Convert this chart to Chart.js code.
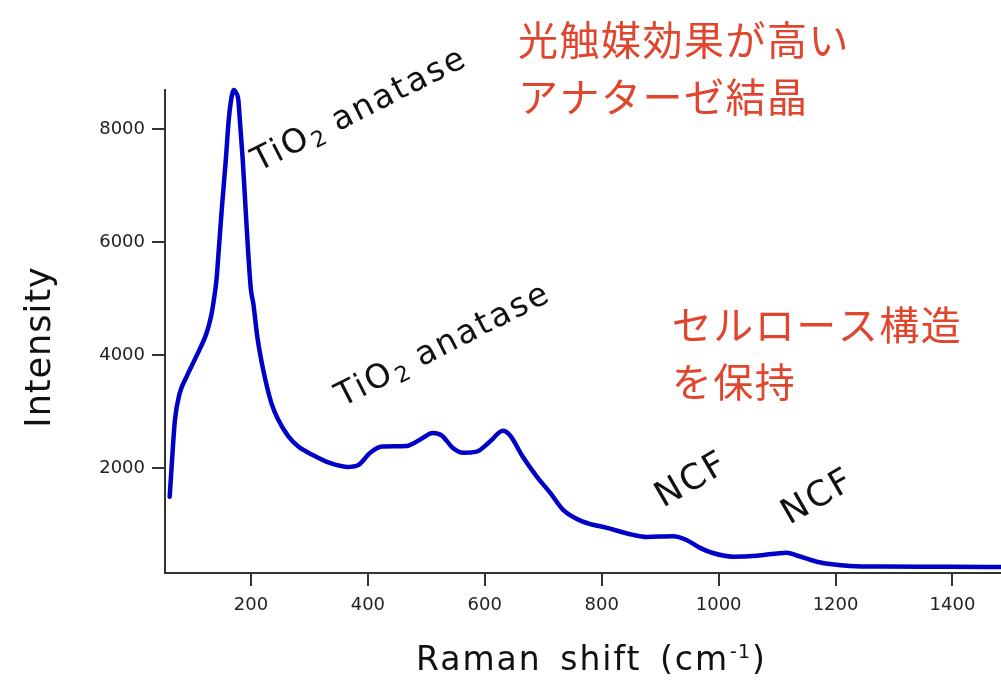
<!DOCTYPE html>
<html>
<head>
<meta charset="utf-8">
<script src="https://cdn.jsdelivr.net/npm/chart.js@4.4.1/dist/chart.umd.min.js"></script>
<style>
  html, body { margin: 0; padding: 0; background: #fff; }
  #wrap { width: 1001px; height: 680px; }
</style>
</head>
<body>
<div id="wrap"><canvas id="chartCanvas" width="1001" height="680"></canvas></div>
<script>
// Raman spectrum
const ramanShift = [61, 64, 70, 78, 90, 101, 113, 124, 132, 137, 141, 145, 150, 157, 162, 166, 168.5, 171, 174, 178.5, 181, 186, 191, 195, 200, 204, 211, 221, 235, 247, 264, 281, 306, 335, 364, 383, 404, 424, 466, 489, 511, 526, 546, 563, 586, 609, 631, 643, 665, 689, 712, 734, 768, 809, 854, 877, 922, 945, 968, 990, 1025, 1065, 1117, 1134, 1168, 1225, 1281, 1400, 1483];
const intensity  = [1490, 1970, 2850, 3320, 3620, 3860, 4120, 4390, 4700, 5010, 5330, 5870, 6570, 7460, 8170, 8520, 8650, 8700, 8660, 8520, 8170, 7460, 6570, 5870, 5160, 4920, 4320, 3740, 3150, 2850, 2560, 2380, 2230, 2090, 2020, 2050, 2270, 2380, 2390, 2500, 2620, 2580, 2350, 2270, 2290, 2470, 2660, 2580, 2200, 1850, 1560, 1260, 1050, 940, 815, 780, 790, 725, 585, 495, 430, 445, 500, 450, 340, 265, 253, 250, 245];

const xTickValues = [200, 400, 600, 800, 1000, 1200, 1400];
const yTickValues = [2000, 4000, 6000, 8000];

const peakLabels = ['TiO2 anatase', 'TiO2 anatase', 'NCF', 'NCF'];
const noteLines = ['光触媒効果が高い', 'アナターゼ結晶', 'セルロース構造', 'を保持'];

// where the labels sit, in data units (x = cm-1, y = intensity)
const peakLabelPos = [
  { x: 213, y: 7250, angle: -27, size: 33 },
  { x: 356, y: 3080, angle: -27, size: 33 },
  { x: 905, y: 1290, angle: -30, size: 35 },
  { x: 1121, y: 990, angle: -30, size: 35 }
];
const notePos = [
  { x: 657, y: 9590 },
  { x: 657, y: 8580 },
  { x: 920, y: 4540 },
  { x: 920, y: 3525 }
];

const AXIS = '#333';
const LINE_BLUE = 'rgb(0, 0, 200)';
const NOTE_RED = 'rgb(224, 70, 46)';
const LATIN = "'DejaVu Sans', Verdana, sans-serif";
const CJK = "'Noto Sans CJK JP', sans-serif";

function setSpacing(ctx, px, word) {
  if ('letterSpacing' in ctx) ctx.letterSpacing = px + 'px';
  if ('wordSpacing' in ctx) ctx.wordSpacing = (word || 0) + 'px';
}

// draws text left-aligned at (0,0); the 2 after "TiO" becomes a subscript
function drawLabel(ctx, txt, size, spacing) {
  const parts = txt.startsWith('TiO2') ? [['TiO', 0], ['2', 1], [txt.slice(4), 0]] : [[txt, 0]];
  let x = 0;
  parts.forEach(([s, sub]) => {
    const fs = sub ? Math.round(size * 0.68) : size;
    ctx.font = fs + 'px ' + LATIN;
    setSpacing(ctx, sub ? 0.5 : spacing);
    ctx.fillText(s, x + (sub ? 1 : 0), sub ? size * 0.16 : 0);
    x += ctx.measureText(s).width + (sub ? 1 : 0);
  });
}

const labelPlugin = {
  id: 'labels',
  afterDraw(chart) {
    const ctx = chart.ctx;
    const xs = chart.scales.x, ys = chart.scales.y;

    // peak labels (rotated)
    peakLabels.forEach((txt, i) => {
      const p = peakLabelPos[i];
      ctx.save();
      ctx.translate(xs.getPixelForValue(p.x), ys.getPixelForValue(p.y));
      ctx.rotate(p.angle * Math.PI / 180);
      ctx.fillStyle = '#111';
      ctx.textAlign = 'left';
      ctx.textBaseline = 'alphabetic';
      drawLabel(ctx, txt, p.size, 2.2);
      ctx.restore();
    });

    // red notes
    noteLines.forEach((txt, i) => {
      const p = notePos[i];
      ctx.save();
      ctx.font = '40px ' + CJK;
      setSpacing(ctx, 1.5);
      ctx.fillStyle = NOTE_RED;
      ctx.textAlign = 'left';
      ctx.textBaseline = 'middle';
      ctx.fillText(txt, xs.getPixelForValue(p.x), ys.getPixelForValue(p.y));
      ctx.restore();
    });

    // y title
    ctx.save();
    ctx.translate(50, 347);
    ctx.rotate(-Math.PI / 2);
    ctx.font = '35px ' + LATIN;
    setSpacing(ctx, 1);
    ctx.fillStyle = '#111';
    ctx.textAlign = 'center';
    ctx.textBaseline = 'alphabetic';
    ctx.fillText('Intensity', 0, 0);
    ctx.restore();

    // x title with superscript
    ctx.save();
    ctx.fillStyle = '#111';
    ctx.textBaseline = 'alphabetic';
    ctx.textAlign = 'left';
    let x = 416;
    const base = 670;
    ctx.font = '33px ' + LATIN;
    setSpacing(ctx, 2, 6);
    ctx.fillText('Raman shift (cm', x, base);
    x += ctx.measureText('Raman shift (cm').width;
    ctx.font = '19px ' + LATIN;
    setSpacing(ctx, 1);
    ctx.fillText('-1', x + 1, base - 12);
    x += ctx.measureText('-1').width + 2;
    ctx.font = '33px ' + LATIN;
    setSpacing(ctx, 2);
    ctx.fillText(')', x, base);
    ctx.restore();
  }
};

const axisStyle = {
  grid: { drawOnChartArea: false, drawTicks: true, tickLength: 13, color: AXIS, lineWidth: 2 },
  border: { color: AXIS, width: 2 },
  ticks: { color: '#222', font: { family: LATIN, size: 18 }, autoSkip: false, maxRotation: 0, callback: v => String(v) }
};

new Chart(document.getElementById('chartCanvas').getContext('2d'), {
  type: 'line',
  data: {
    datasets: [{
      data: ramanShift.map((v, i) => ({ x: v, y: intensity[i] })),
      borderColor: LINE_BLUE,
      borderWidth: 4.5,
      pointRadius: 0,
      cubicInterpolationMode: 'monotone',
      borderJoinStyle: 'round',
      borderCapStyle: 'round',
      clip: 6,
      fill: false
    }]
  },
  options: {
    responsive: false,
    animation: false,
    layout: { padding: { top: 90, right: 0, bottom: 0, left: 0 } },
    plugins: { legend: { display: false }, tooltip: { enabled: false } },
    scales: {
      x: {
        type: 'linear', min: 53, max: 1483,
        afterBuildTicks: s => { s.ticks = xTickValues.map(v => ({ value: v })); },
        afterFit: s => { s.height = 107; },
        grid: axisStyle.grid, border: axisStyle.border,
        ticks: Object.assign({}, axisStyle.ticks, { padding: 9 })
      },
      y: {
        type: 'linear', min: 140, max: 8700,
        afterBuildTicks: s => { s.ticks = yTickValues.map(v => ({ value: v })); },
        afterFit: s => { s.width = 165; },
        grid: axisStyle.grid, border: axisStyle.border,
        ticks: Object.assign({}, axisStyle.ticks, { padding: 7 })
      }
    }
  },
  plugins: [labelPlugin]
});
</script>
</body>
</html>
